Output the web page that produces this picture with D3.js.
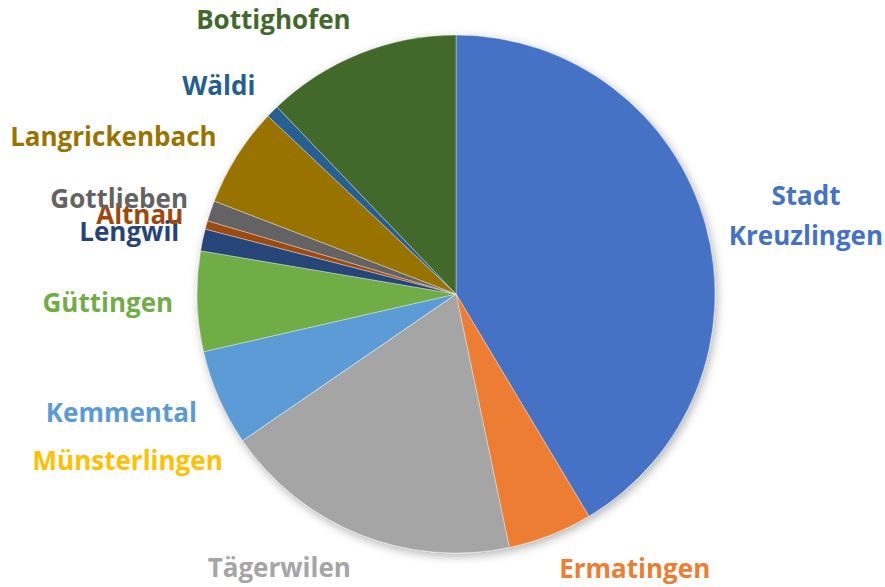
<!DOCTYPE html>
<html>
<head>
<meta charset="utf-8">
<script src="https://cdn.jsdelivr.net/npm/d3@7"></script>
<style>
  body { margin: 0; background: #fff; }
  text { font-family: "Open Sans", Lato, sans-serif; font-weight: bold; }
</style>
</head>
<body>
<svg id="chart"></svg>
<script>
// Municipalities, in the order the slices go round (clockwise from 12 o'clock)
const names = ["Stadt Kreuzlingen", "Ermatingen", "Tägerwilen", "Münsterlingen", "Kemmental",
  "Güttingen", "Lengwil", "Altnau", "Gottlieben", "Langrickenbach", "Wäldi", "Bottighofen"];
// share in percent
const shares = [41.42, 5.28, 18.72, 0, 6.0, 6.25, 1.36, 0.53, 1.28, 6.22, 0.79, 12.15];
const colors = ["#4472C4", "#ED7D31", "#A5A5A5", "#FFC000", "#5B9BD5", "#70AD47",
  "#264478", "#9E480E", "#636363", "#997300", "#255E91", "#43682B"];

const width = 885, height = 587;
const cx = 456, cy = 294, radius = 259, labelRadius = 295;
const fontSize = 26;

const data = names.map((n, i) => ({ name: n, value: shares[i], color: colors[i] }));

let svg = d3.select("#chart").attr("width", width).attr("height", height);

// soft shadow under the pie
let defs = svg.append("defs");
defs.append("filter").attr("id", "shadow")
  .attr("x", "-20%").attr("y", "-20%").attr("width", "140%").attr("height", "140%")
  .append("feDropShadow")
  .attr("dx", 2).attr("dy", 3).attr("stdDeviation", 5)
  .attr("flood-color", "#000").attr("flood-opacity", 0.3);

let pie = d3.pie().sort(null).value(d => d.value);
let arc = d3.arc().innerRadius(0).outerRadius(radius);
let arcs = pie(data);

let g = svg.append("g").attr("transform", `translate(${cx},${cy})`);

g.append("g").attr("filter", "url(#shadow)")
  .selectAll("path")
  .data(arcs)
  .join("path")
  .attr("d", arc)
  .attr("fill", d => d.data.color)
  .attr("stroke", "#fff")
  .attr("stroke-width", 0.6)
  .attr("stroke-opacity", 0.6);

// labels sit just outside the rim, on the side nearest the slice
let labels = g.append("g")
  .selectAll("text")
  .data(arcs)
  .join("text")
  .style("font-size", fontSize + "px")
  .attr("fill", d => d.data.color);

labels.each(function(d) {
  let a = (d.startAngle + d.endAngle) / 2;
  let s = Math.sin(a), c = Math.cos(a);
  let x = labelRadius * s - 12 * s;
  let y = -labelRadius * c;
  let t = d3.select(this);
  let lines = d.data.name === "Stadt Kreuzlingen" ? ["Stadt", "Kreuzlingen"] : [d.data.name];
  let lineH = 40;
  lines.forEach((l, i) => {
    t.append("tspan").text(l)
      .attr("dy", "0.35em")
      .attr("y", y + (i - (lines.length - 1) / 2) * lineH);
  });
  // block width, so multi-line labels are centred within their block
  let spans = t.selectAll("tspan").nodes();
  let w = d3.max(spans, n => n.getComputedTextLength());
  let left = s >= 0 ? x : x - w;
  t.attr("text-anchor", "middle");
  t.selectAll("tspan").attr("x", left + w / 2);
});
</script>
</body>
</html>
